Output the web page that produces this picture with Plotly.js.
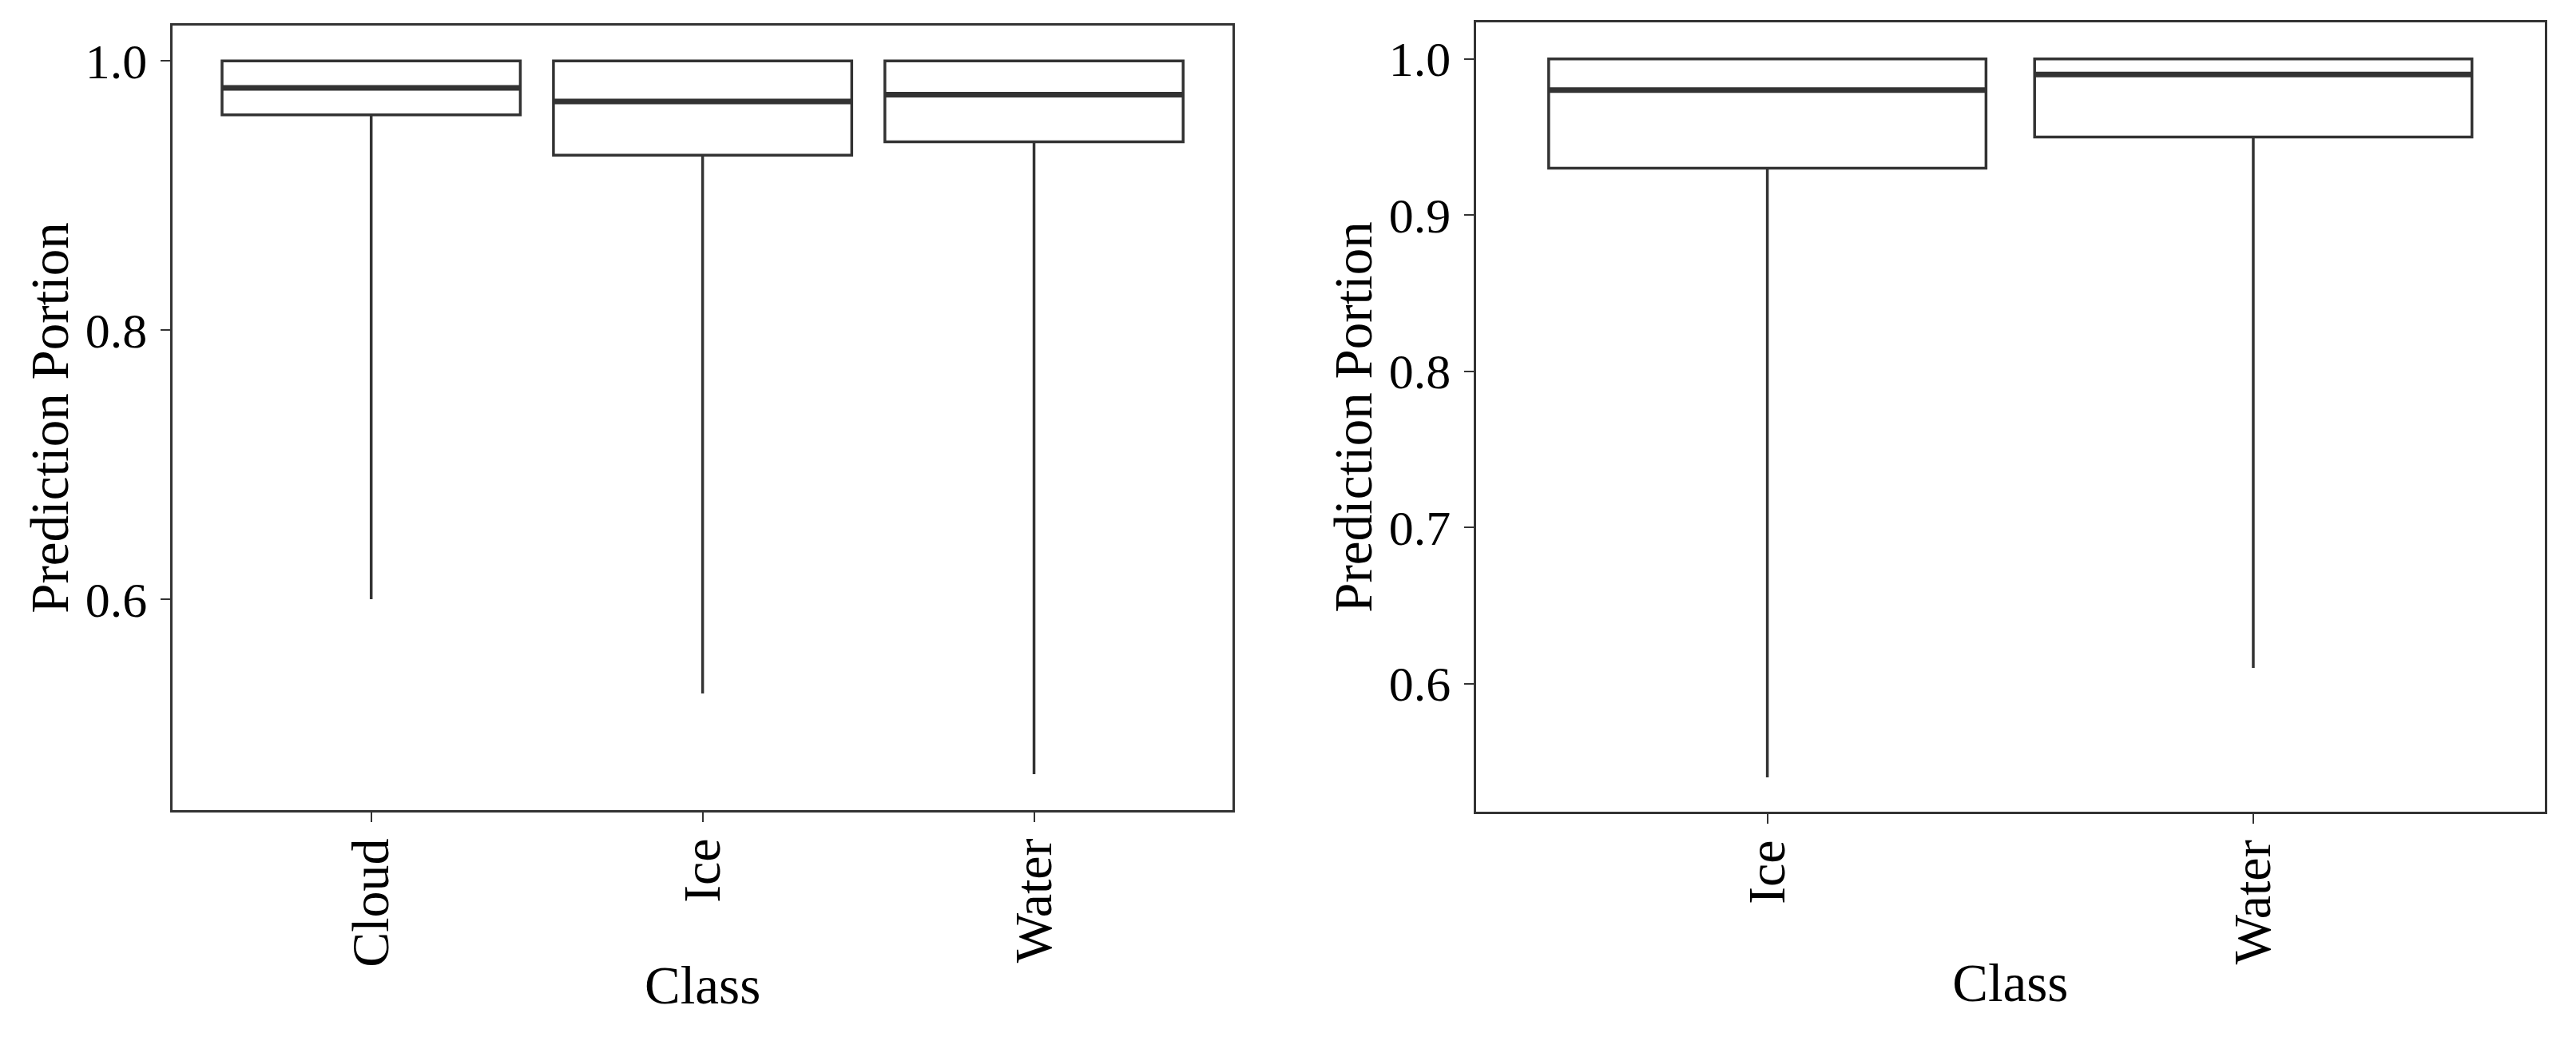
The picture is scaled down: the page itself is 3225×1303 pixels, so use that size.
<!DOCTYPE html>
<html>
<head>
<meta charset="utf-8">
<script src="https://cdn.plot.ly/plotly-3.0.1.min.js"></script>
<style>html,body{margin:0;padding:0;background:#fff;}#chart{width:3225px;height:1303px;}</style>
</head>
<body>
<div id="chart"></div>
<script>
// ---- Data ----
const classesA = ['Cloud', 'Ice', 'Water'];
const q1A      = [0.96, 0.93, 0.94];
const medianA  = [0.98, 0.97, 0.975];
const q3A      = [1.0, 1.0, 1.0];
const lowerA   = [0.60, 0.53, 0.47];
const upperA   = [1.0, 1.0, 1.0];

const classesB = ['Ice', 'Water'];
const q1B      = [0.93, 0.95];
const medianB  = [0.98, 0.99];
const q3B      = [1.0, 1.0];
const lowerB   = [0.54, 0.61];
const upperB   = [1.0, 1.0];

const xTitle = 'Class';
const yTitle = 'Prediction Portion';

// ---- Styling ----
const FONT = 'Liberation Serif, Times New Roman, serif';
const LINE = '#333333';

function boxTrace(x, q1, med, q3, lo, hi, xa, ya) {
  return {
    type: 'box', x: x, q1: q1, median: med, q3: q3,
    lowerfence: lo, upperfence: hi,
    xaxis: xa, yaxis: ya,
    boxpoints: false, width: 0.9, whiskerwidth: 0,
    fillcolor: '#ffffff', line: {color: LINE, width: 3.5},
    hoverinfo: 'skip', showlegend: false
  };
}
function medianTrace(x, med, xa, ya) {
  return {
    type: 'box', x: x, q1: med, median: med, q3: med,
    lowerfence: med, upperfence: med,
    xaxis: xa, yaxis: ya,
    boxpoints: false, width: 0.9, whiskerwidth: 0,
    fillcolor: 'rgba(0,0,0,0)', line: {color: LINE, width: 7},
    hoverinfo: 'skip', showlegend: false
  };
}

const data = [
  boxTrace(classesA, q1A, medianA, q3A, lowerA, upperA, 'x', 'y'),
  medianTrace(classesA, medianA, 'x', 'y'),
  boxTrace(classesB, q1B, medianB, q3B, lowerB, upperB, 'x2', 'y2'),
  medianTrace(classesB, medianB, 'x2', 'y2')
];

function xAxis(domain, n, anchor) {
  return {
    domain: domain, anchor: anchor, type: 'category',
    range: [-0.6, n - 1 + 0.6], fixedrange: true,
    showline: true, linecolor: LINE, linewidth: 3, mirror: true,
    ticks: 'outside', ticklen: 12, tickwidth: 2, tickcolor: LINE,
    tickangle: -90, showgrid: false, zeroline: false,
    tickfont: {family: FONT, size: 66, color: '#000'},
    ticklabelstandoff: -6,
    title: {text: xTitle, font: {family: FONT, size: 67, color: '#000'}, standoff: 0},
    automargin: false
  };
}
function yAxis(domain, range, dtick, anchor) {
  return {
    domain: domain, anchor: anchor, range: range, dtick: dtick, tick0: 0,
    tickformat: '.1f', fixedrange: true,
    showline: true, linecolor: LINE, linewidth: 3, mirror: true,
    ticks: 'outside', ticklen: 12, tickwidth: 2, tickcolor: LINE,
    showgrid: false, zeroline: false,
    tickfont: {family: FONT, size: 62, color: '#000'},
    ticklabelstandoff: 4,
    title: {text: yTitle, font: {family: FONT, size: 67, color: '#000'}, standoff: 0},
    automargin: false
  };
}

const layout = {
  width: 3225, height: 1303,
  margin: {l: 0, r: 0, t: 0, b: 0},
  paper_bgcolor: '#ffffff', plot_bgcolor: '#ffffff',
  boxmode: 'overlay', showlegend: false,
  xaxis:  xAxis([0.0669, 0.4786], classesA.length, 'y'),
  yaxis:  yAxis([0.2218, 0.9754], [0.4433, 1.0263], 0.2, 'x'),
  xaxis2: xAxis([0.5729, 0.9879], classesB.length, 'y2'),
  yaxis2: yAxis([0.2203, 0.9785], [0.518, 1.0234], 0.1, 'x2')
};

Plotly.newPlot('chart', data, layout, {staticPlot: true, displayModeBar: false});
</script>
</body>
</html>
